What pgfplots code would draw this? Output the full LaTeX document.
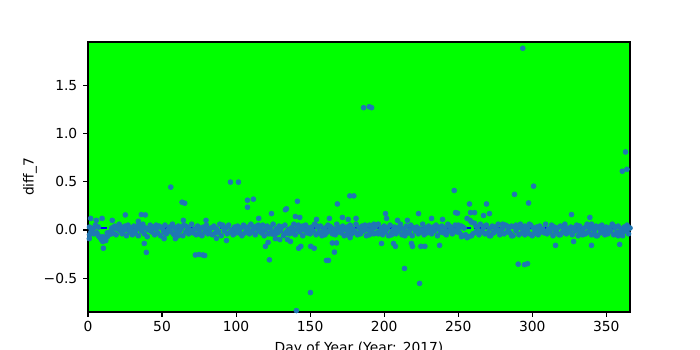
\documentclass[border=0pt]{standalone}
\usepackage{pgfplots}
\usepackage{pgfplotstable}
\pgfplotsset{compat=1.18}
\usepackage{fontspec}
\setmainfont{DejaVu Sans}
\definecolor{tabblue}{HTML}{1F77B4}
\definecolor{bggreen}{HTML}{00FF00}

\pgfplotstableread{
d a b
1 0.03 -0.05
2 -0.02 0.06
3 0.01 -0.03
4 -0.04 0.02
5 0.05 -0.01
6 -0.03 0.00
7 -0.06 0.03
8 -0.08 -0.02
9 -0.10 -0.05
10 -0.12 -0.07
11 -0.09 -0.04
12 -0.11 -0.06
13 -0.07 -0.03
14 -0.05 0.01
15 -0.02 0.04
16 0.02 -0.04
17 -0.03 0.05
18 0.04 -0.01
19 -0.05 0.02
20 0.01 -0.06
21 0.06 -0.02
22 -0.01 0.03
23 -0.04 0.00
24 0.03 -0.05
25 0.00 0.04
26 -0.06 0.02
27 0.05 -0.03
28 -0.02 0.01
29 0.02 -0.07
30 -0.05 0.06
31 0.04 -0.02
32 -0.03 0.03
33 0.01 -0.04
34 -0.06 0.05
35 0.03 0.00
36 -0.01 -0.05
37 0.06 0.02
38 -0.04 -0.01
39 0.02 0.04
40 -0.07 0.01
41 0.00 -0.03
42 0.05 -0.06
43 -0.02 0.03
44 0.03 -0.04
45 -0.05 0.02
46 0.01 0.05
47 -0.03 -0.02
48 0.04 0.00
49 -0.06 0.03
50 0.02 -0.05
51 -0.01 0.04
52 0.05 -0.03
53 -0.04 0.01
54 0.00 -0.06
55 0.03 0.02
56 -0.02 -0.04
57 0.06 0.01
58 -0.05 0.03
59 0.01 -0.02
60 -0.03 0.05
61 0.04 -0.06
62 -0.01 0.02
63 0.02 -0.03
64 -0.06 0.04
65 0.05 0.00
66 -0.02 -0.05
67 0.03 0.03
68 -0.04 0.01
69 0.00 -0.04
70 0.06 -0.02
71 -0.03 0.05
72 0.01 -0.06
73 -0.05 0.02
74 0.04 -0.01
75 -0.01 0.03
76 0.02 -0.05
77 -0.06 0.04
78 0.03 -0.02
79 -0.02 0.01
80 0.05 -0.04
81 -0.04 0.06
82 0.00 -0.03
83 0.02 0.02
84 -0.05 -0.01
85 0.04 0.03
86 -0.03 -0.06
87 0.01 0.04
88 -0.02 -0.02
89 0.06 0.01
90 -0.06 -0.04
91 0.03 0.05
92 -0.01 -0.03
93 0.02 0.00
94 -0.04 0.03
95 0.05 -0.05
96 -0.02 0.02
97 0.00 -0.01
98 -0.05 0.04
99 0.03 -0.06
100 -0.03 0.01
101 0.04 -0.02
102 -0.01 0.05
103 0.02 -0.04
104 -0.06 0.01
105 0.05 -0.03
106 -0.03 0.03
107 0.00 -0.05
108 0.03 0.02
109 -0.04 -0.01
110 0.06 0.04
111 -0.02 -0.06
112 0.01 0.03
113 -0.05 0.00
114 0.04 -0.02
115 -0.01 0.05
116 0.02 -0.04
117 -0.03 0.02
118 0.05 -0.01
119 -0.06 0.03
120 0.00 -0.05
121 0.03 0.04
122 -0.04 -0.02
123 0.02 0.01
124 -0.02 -0.04
125 0.06 0.02
126 -0.05 0.05
127 0.01 -0.03
128 -0.03 0.00
129 0.04 -0.06
130 -0.01 0.03
131 0.03 -0.02
132 -0.06 0.04
133 0.05 -0.04
134 -0.02 0.01
135 0.00 0.06
136 -0.04 -0.03
137 0.02 0.02
138 -0.03 -0.05
139 0.06 0.00
140 -0.05 0.03
141 0.01 -0.02
142 0.04 0.05
143 -0.02 -0.06
144 0.03 0.01
145 -0.06 0.04
146 0.00 -0.03
147 0.05 0.02
148 -0.03 -0.01
149 0.02 0.04
150 -0.04 -0.05
151 0.01 0.03
152 -0.01 -0.02
153 0.06 0.01
154 -0.05 0.05
155 0.03 -0.04
156 -0.02 0.00
157 0.04 -0.03
158 -0.06 0.02
159 0.00 0.06
160 0.02 -0.05
161 -0.03 0.03
162 0.05 -0.01
163 -0.01 0.04
164 0.03 -0.06
165 -0.04 0.01
166 0.01 -0.02
167 -0.05 0.05
168 0.06 -0.03
169 -0.02 0.02
170 0.02 -0.04
171 -0.03 0.06
172 0.04 0.00
173 -0.06 -0.02
174 0.00 0.03
175 0.03 -0.05
176 -0.01 0.04
177 0.05 -0.01
178 -0.04 0.02
179 0.01 -0.06
180 -0.02 0.05
181 0.06 -0.03
182 -0.05 0.01
183 0.02 0.03
184 -0.03 -0.04
185 0.04 0.02
186 -0.01 -0.02
187 0.03 0.05
188 -0.06 -0.01
189 0.00 0.04
190 0.05 -0.05
191 -0.02 0.02
192 0.01 -0.03
193 -0.04 0.06
194 0.03 -0.02
195 -0.03 0.01
196 0.06 -0.04
197 -0.01 0.03
198 0.02 -0.06
199 -0.05 0.00
200 0.04 0.04
201 -0.02 -0.03
202 0.01 0.02
203 -0.06 -0.01
204 0.05 0.05
205 -0.03 -0.05
206 0.00 0.03
207 0.03 -0.02
208 -0.04 0.01
209 0.02 0.06
210 -0.01 -0.04
211 0.06 0.02
212 -0.05 -0.02
213 0.01 0.04
214 -0.02 -0.06
215 0.04 0.01
216 -0.03 0.03
217 0.00 -0.03
218 0.05 0.05
219 -0.06 -0.01
220 0.02 0.02
221 -0.01 -0.05
222 0.03 0.04
223 -0.04 -0.02
224 0.01 0.06
225 -0.02 -0.04
226 0.06 0.00
227 -0.05 0.03
228 0.02 -0.06
229 -0.03 0.02
230 0.04 -0.01
231 0.00 0.05
232 -0.04 -0.03
233 0.03 0.01
234 -0.01 -0.05
235 0.05 0.04
236 -0.06 0.02
237 0.01 -0.02
238 -0.02 0.03
239 0.04 -0.04
240 -0.03 0.06
241 0.02 -0.01
242 -0.05 0.01
243 0.06 -0.03
244 -0.01 0.04
245 0.03 -0.05
246 -0.04 0.02
247 0.00 -0.02
248 0.05 0.03
249 -0.02 -0.06
250 0.01 0.05
251 -0.03 0.00
252 0.04 -0.04
253 -0.06 0.03
254 0.02 -0.01
255 -0.05 0.09
256 0.12 -0.08
257 -0.07 0.15
258 0.10 -0.09
259 0.08 -0.06
260 -0.04 0.11
261 0.07 -0.05
262 -0.02 0.04
263 0.03 -0.03
264 -0.05 0.05
265 0.06 -0.02
266 -0.01 0.02
267 0.02 -0.05
268 -0.04 0.04
269 0.05 -0.01
270 -0.03 0.03
271 0.01 -0.06
272 -0.06 0.01
273 0.04 0.05
274 -0.02 -0.03
275 0.03 0.02
276 -0.01 -0.04
277 0.06 0.00
278 -0.05 0.03
279 0.00 -0.02
280 0.02 0.06
281 -0.04 -0.05
282 0.05 0.01
283 -0.02 0.04
284 0.01 -0.03
285 -0.03 0.02
286 0.04 -0.06
287 -0.06 0.03
288 0.03 -0.01
289 -0.01 0.05
290 0.02 -0.04
291 -0.05 0.00
292 0.06 0.03
293 -0.03 -0.02
294 0.00 0.04
295 0.04 -0.05
296 -0.02 0.01
297 0.01 -0.03
298 -0.04 0.06
299 0.05 -0.01
300 -0.06 0.02
301 0.02 -0.04
302 -0.01 0.03
303 0.03 -0.06
304 -0.05 0.00
305 0.04 0.05
306 -0.02 -0.02
307 0.00 0.01
308 -0.03 -0.05
309 0.06 0.03
310 -0.04 -0.01
311 0.01 0.04
312 -0.02 -0.03
313 0.05 0.02
314 -0.06 -0.04
315 0.03 0.06
316 -0.01 -0.02
317 0.02 0.00
318 -0.05 0.03
319 0.04 -0.05
320 -0.03 0.01
321 0.00 -0.03
322 0.06 0.04
323 -0.04 -0.06
324 0.01 0.02
325 -0.02 -0.01
326 0.03 0.05
327 -0.05 -0.03
328 0.02 0.01
329 -0.01 -0.04
330 0.05 0.03
331 -0.06 0.00
332 0.04 -0.02
333 -0.03 0.05
334 0.00 -0.05
335 0.02 0.02
336 -0.04 -0.01
337 0.06 0.04
338 -0.02 -0.03
339 0.01 0.01
340 -0.05 0.06
341 0.03 -0.04
342 -0.01 0.02
343 0.04 -0.06
344 -0.06 0.03
345 0.02 -0.01
346 -0.03 0.04
347 0.05 -0.02
348 0.00 0.00
349 -0.02 -0.05
350 0.03 0.05
351 -0.04 -0.03
352 0.01 0.02
353 -0.01 -0.04
354 0.06 0.01
355 -0.05 0.04
356 0.02 -0.02
357 -0.03 0.03
358 0.04 -0.06
359 -0.02 0.00
360 0.01 0.05
361 -0.06 -0.03
362 0.03 0.02
363 -0.01 -0.04
364 0.05 0.01
365 -0.04 0.03
366 0.02 -0.02
}\band

\pgfplotstableread{
d v
1.8 0.12
5.6 0.10
9.5 0.12
10.4 -0.19
0.9 -0.09
16.4 0.10
25.2 0.156
34 0.09
36 0.16
38.7 0.156
38 -0.14
39.4 -0.233
51.4 -0.09
55.9 0.445
59 -0.09
63.5 0.288
65.3 0.278
64.4 0.10
72.5 -0.26
75 -0.255
77.5 -0.26
78.8 -0.265
79.7 0.10
86.7 -0.087
93.5 -0.11
96.2 0.497
101.6 0.497
107.7 0.309
111.7 0.32
107.7 0.236
115.3 0.12
119.8 -0.17
121.6 -0.13
122.5 -0.31
123.9 0.17
126.5 -0.09
129.5 -0.10
133.3 0.21
134 0.22
134.7 -0.10
136.7 -0.12
140 0.14
141.4 0.298
142.3 -0.19
143.7 -0.17
140.7 -0.837
143 0.13
150.2 -0.65
150.4 -0.17
152.7 -0.19
154.3 0.11
161 -0.316
162.4 -0.316
163 0.12
165 -0.135
166.4 -0.23
167.8 -0.135
168.4 0.27
171.8 0.13
175.7 0.11
176.8 0.354
179.5 0.354
181 0.12
177 -0.08
186.1 1.27
189.9 1.28
191.5 1.27
198.2 -0.14
200.9 0.17
201.6 0.12
206.3 -0.14
207.6 -0.17
209 0.10
213.7 -0.40
215.7 0.10
218.4 -0.14
219.1 -0.17
223.2 0.17
223.9 -0.555
224.8 -0.17
227.5 -0.17
232 0.12
237.4 -0.16
239.4 0.11
247.3 0.41
248.2 0.18
249.5 0.175
252.2 -0.07
257.6 0.27
258.3 0.18
261 0.18
267.1 0.15
269.1 0.27
271.1 0.17
288 0.37
290.5 -0.355
293.6 1.887
294.8 -0.36
296.8 -0.35
297.5 0.28
300.9 0.455
315.7 -0.16
326.5 0.16
327.9 -0.12
338.9 0.13
340 -0.16
359 -0.15
360.8 0.61
363.9 0.63
363 0.81
}\outl

\begin{document}
\begin{tikzpicture}
\useasboundingbox (-63.36bp,-27.36bp) rectangle (440.64bp,224.64bp);
\begin{axis}[
  at={(0bp,0bp)}, anchor=south west,
  width=390.24bp, height=194.4bp, scale only axis,
  xmin=0, xmax=366, ymin=-0.852, ymax=1.952,
  axis background/.style={fill=bggreen},
  axis line style={line width=0.8bp, black},
  tick align=outside, tick pos=left,
  major tick length=3.5bp,
  every tick/.style={black, line width=0.8bp},
  xtick={0,50,100,150,200,250,300,350},
  xticklabels={0,50,100,150,200,250,300,350},
  ytick={-0.5,0,0.5,1,1.5},
  yticklabels={−0.5,0.0,0.5,1.0,1.5},
  tick label style={font=\fontsize{10}{12}\selectfont},
  xticklabel style={inner sep=0pt, anchor=base, yshift=-10.8bp},
  yticklabel style={inner sep=0pt, anchor=east, xshift=-4bp},
  label style={font=\fontsize{10}{12}\selectfont},
  xlabel={Day of Year (Year: 2017)},
  ylabel={diff\_7},
  xlabel style={at={(axis description cs:0.5,0)}, anchor=base, yshift=-28.8bp, inner sep=0pt},
  ylabel style={at={(axis description cs:-0.107,0.5)}, anchor=center, inner sep=0pt},
]
\addplot[only marks, mark=*, mark size=1.8bp, color=tabblue, mark options={draw=none, fill=tabblue}] table[x=d, y=a] {\band};
\addplot[only marks, mark=*, mark size=1.8bp, color=tabblue, mark options={draw=none, fill=tabblue}, each nth point=3] table[x=d, y=b] {\band};
\addplot[only marks, mark=*, mark size=1.8bp, color=tabblue, mark options={draw=none, fill=tabblue}] table[x=d, y=v] {\outl};
\addplot[blue, line width=1.5bp, dash pattern=on 5.55bp off 2.4bp] coordinates {(0,0.025) (366,0.025)};
\end{axis}
\end{tikzpicture}
\end{document}
